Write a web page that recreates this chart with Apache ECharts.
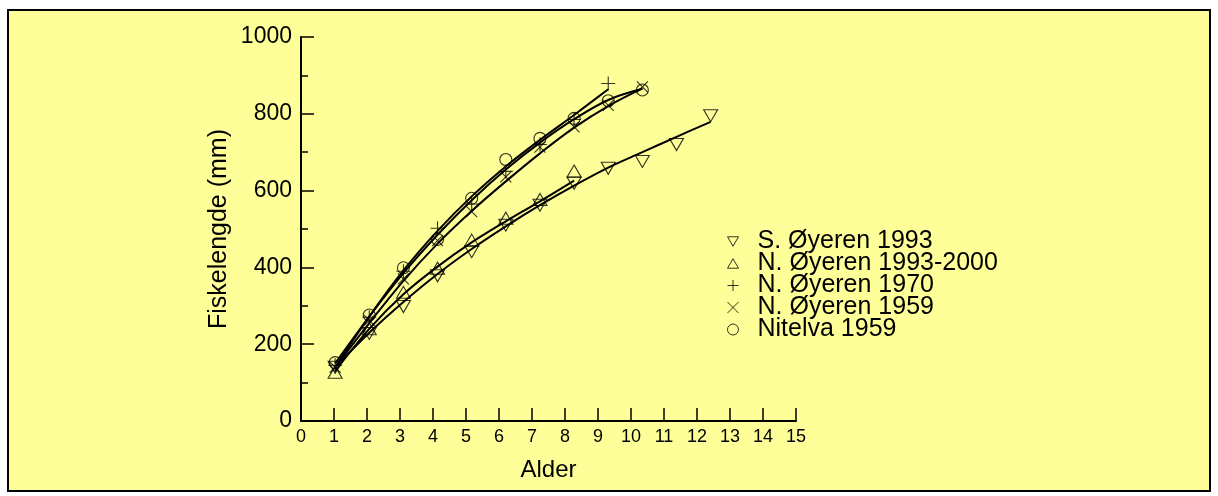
<!DOCTYPE html>
<html>
<head>
<meta charset="utf-8">
<script src="https://cdn.jsdelivr.net/npm/echarts@6/dist/echarts.min.js"></script>
<style>
html,body{margin:0;padding:0;background:#ffffff;}
#chart{width:1218px;height:496px;}
</style>
</head>
<body>
<div id="chart"></div>
<script>
// ---- data ----
const xTicks = [0,1,2,3,4,5,6,7,8,9,10,11,12,13,14,15];
const seriesNames = ["S. Øyeren 1993","N. Øyeren 1993-2000","N. Øyeren 1970","N. Øyeren 1959","Nitelva 1959"];

// observed mean lengths (mm) by age 1..n
const sOyeren1993   = [140, 228, 298, 378, 441, 510, 562, 619, 658, 676, 720, 795];
const nOyeren9300   = [127, 240, 335, 398, 471, 528, 577, 651];
const nOyeren1970   = [145, 270, 390, 502, 565, 650, 720, 785, 879];
const nOyeren1959   = [140, 262, 370, 470, 545, 636, 713, 766, 822, 870];
const nitelva1959   = [152, 276, 399, 473, 580, 681, 736, 788, 834, 862];

// fitted growth curves (mm) by age 1..n
const fitS1993   = [140, 230, 310, 383, 448, 507, 562, 613, 660, 700, 740, 779];
const fitN9300   = [130, 240, 330, 402, 465, 520, 572, 626];
const fitN1970   = [140, 272, 392, 495, 585, 663, 732, 797, 864];
const fitN1959   = [140, 255, 365, 462, 547, 624, 697, 764, 820, 866];
const fitNitelva = [150, 272, 385, 485, 575, 655, 725, 786, 836, 865];

function pairs(arr){ return arr.map((v,i)=>[i+1, v]); }

const chart = echarts.init(document.getElementById('chart'), null, {renderer:'canvas'});

const DOWN_TRI = 'path://M0,0L10,0L5,8.6Z';
const UP_TRI = 'path://M5,0L10,8.6L0,8.6Z';
const PLUS = 'path://M5,0L5,10M0,5L10,5';
const CROSS = 'path://M0,0L10,10M10,0L0,10';

const markerStyle = {color:'none', borderColor:'#000', borderWidth:1.1};
const obs = [
  {name:seriesNames[0], data:sOyeren1993, symbol:DOWN_TRI, size:[14,12]},
  {name:seriesNames[1], data:nOyeren9300, symbol:UP_TRI, size:[14,12]},
  {name:seriesNames[2], data:nOyeren1970, symbol:PLUS, size:14},
  {name:seriesNames[3], data:nOyeren1959, symbol:CROSS, size:11},
  {name:seriesNames[4], data:nitelva1959, symbol:'circle', size:12}
];
const fits = [fitS1993, fitN9300, fitN1970, fitN1959, fitNitelva];

const series = [];
fits.forEach((f,i)=>{
  series.push({
    name:'fit'+i, type:'line', xAxisIndex:1, yAxisIndex:0,
    data:pairs(f), smooth:0.35, showSymbol:false, symbol:'none',
    lineStyle:{color:'#000', width:2}, silent:true, z:2
  });
});
obs.forEach(o=>{
  series.push({
    name:o.name, type:'scatter', xAxisIndex:1, yAxisIndex:0,
    data:pairs(o.data), symbol:o.symbol, symbolSize:o.size, symbolKeepAspect:false,
    itemStyle:markerStyle, z:3
  });
});

const legendIcons = [DOWN_TRI, UP_TRI, PLUS, CROSS, 'circle'];
const font = '"Liberation Sans", Arial, sans-serif';

chart.setOption({
  backgroundColor:'#ffffff',
  animation:false,
  graphic:[{
    type:'rect', z:-10, silent:true,
    shape:{x:8, y:10, width:1202, height:481},
    style:{fill:'#FFFF99', stroke:'#000', lineWidth:2}
  }],
  grid:{left:301, top:37, width:495, height:384, containLabel:false},
  legend:{
    orient:'vertical', left:725, top:229, padding:0,
    data:seriesNames.map((n,i)=>({name:n, icon:legendIcons[i]})),
    itemWidth:11, itemHeight:11, itemGap:-3,
    textStyle:{fontFamily:font, fontSize:25, color:'#000', lineHeight:21, padding:[0,0,0,14]},
    itemStyle:{color:'none', borderColor:'#000', borderWidth:1},
    selectedMode:false
  },
  xAxis:[{
    type:'value', min:0, max:15, interval:1,
    name:'Alder', nameLocation:'middle', nameGap:37,
    nameTextStyle:{fontFamily:font, fontSize:24, color:'#000'},
    axisLine:{show:true, onZero:false, lineStyle:{color:'#000', width:2}},
    axisTick:{show:true, inside:true, length:13, lineStyle:{color:'#000', width:1.5}},
    axisLabel:{show:true, margin:7, fontFamily:font, fontSize:18, color:'#000',
      formatter:v=>String(v)},
    splitLine:{show:false}
  },{
    type:'value', min:0, max:14.5, show:false
  }],
  yAxis:[{
    type:'value', min:0, max:1000, interval:200,
    name:'Fiskelengde (mm)', nameLocation:'middle', nameGap:69, nameRotate:90,
    nameTextStyle:{fontFamily:font, fontSize:25, color:'#000'},
    axisLine:{show:true, onZero:false, lineStyle:{color:'#000', width:2}},
    axisTick:{show:true, inside:true, length:13, lineStyle:{color:'#000', width:1.5}},
    minorTick:{show:true, splitNumber:2, length:7, lineStyle:{color:'#000', width:1.5}},
    axisLabel:{show:true, margin:9, fontFamily:font, fontSize:23, color:'#000',
      formatter:v=>String(v)},
    splitLine:{show:false}, minorSplitLine:{show:false}
  }],
  series:series
});
</script>
</body>
</html>
